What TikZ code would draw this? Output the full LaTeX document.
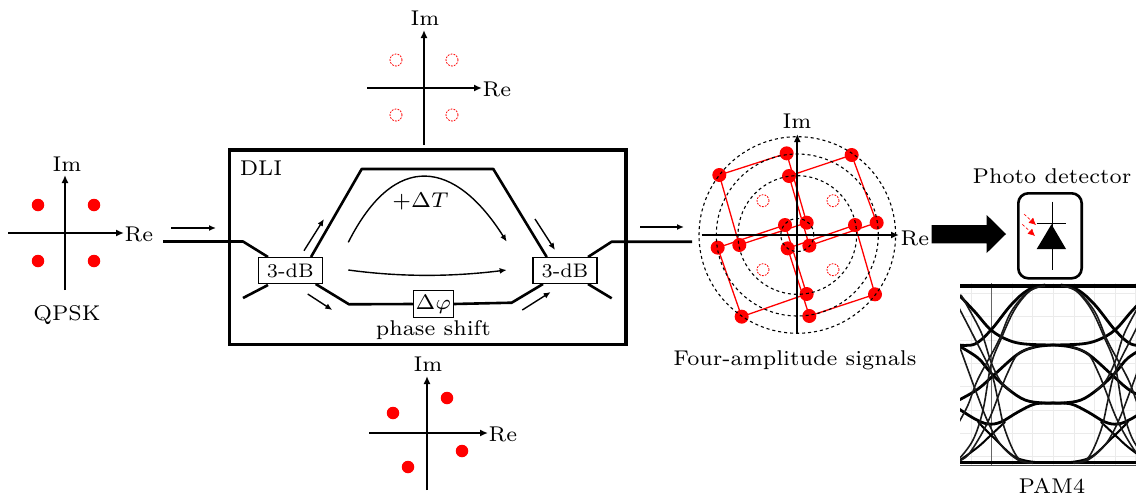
\documentclass[tikz,border=0pt]{standalone}
\usepackage{amsmath}
\usetikzlibrary{arrows.meta,calc}
\tikzset{
  lab/.style={inner sep=0pt,scale=3.05,font=\fontsize{7}{8}\selectfont},
  axis/.style={line width=1.7pt,-{Latex[length=8pt,width=7pt]}},
  flow/.style={line width=1.4pt,-{Latex[length=7pt,width=6pt]}},
  guide/.style={line width=2.6pt},
  fullpt/.style={circle,fill=red,draw=none,minimum size=12.5pt,inner sep=0pt},
  emptypt/.style={circle,draw=red,dash pattern=on 1.8pt off 1.2pt,line width=0.8pt,minimum size=12pt,inner sep=0pt},
  coupler/.style={draw=black,fill=white,line width=1.1pt,minimum width=64pt,minimum height=25.6pt,inner sep=0pt},
  ring/.style={draw=black,dashed,line width=1.1pt},
  sq/.style={draw=red,line width=1.3pt},
  eyethick/.style={line width=2.8pt,line cap=round,line join=round},
  eyemid/.style={line width=1.6pt,black!90},
}
\begin{document}
\begin{tikzpicture}[x=1pt,y=-1pt]
\useasboundingbox (0,0) rectangle (1136,496);
% --- QPSK
\coordinate (qw) at (8,233); \coordinate (qe) at (124,233);
\coordinate (qs) at (65,290); \coordinate (qn) at (65,175);
\draw[axis] (qw) -- (qe); \draw[axis] (qs) -- (qn);
\node[lab] (qim) at (67,164) {Im};
\node[lab] (qre) at (139,234) {Re};
\node[lab] (qlab) at (67,315) {QPSK};
\node[fullpt] (q1) at (38,205) {}; \node[fullpt] (q2) at (94,205) {};
\node[fullpt] (q3) at (38,261) {}; \node[fullpt] (q4) at (94,261) {};
% --- top
\coordinate (tw) at (367,88); \coordinate (te) at (482,88);
\coordinate (ts) at (424,145); \coordinate (tn) at (424,30);
\draw[axis] (tw) -- (te); \draw[axis] (ts) -- (tn);
\node[lab] (tim) at (425,18) {Im};
\node[lab] (tre) at (497,89) {Re};
\node[emptypt] (t1) at (396,60) {}; \node[emptypt] (t2) at (452,60) {};
\node[emptypt] (t3) at (396,115) {}; \node[emptypt] (t4) at (452,115) {};
% --- bottom
\coordinate (bw) at (369,433); \coordinate (be) at (488,433);
\coordinate (bs) at (427,490); \coordinate (bn) at (427,376);
\draw[axis] (bw) -- (be); \draw[axis] (bs) -- (bn);
\node[lab] (bim) at (428,364) {Im};
\node[lab] (bre) at (503,434) {Re};
\node[fullpt] (b1) at (393,413) {}; \node[fullpt] (b2) at (447,398) {};
\node[fullpt] (b3) at (408,467) {}; \node[fullpt] (b4) at (462,451) {};
% --- DLI
\node[draw=black,line width=3.2pt,minimum width=396.7pt,minimum height=194.3pt,inner sep=0pt] (dli) at (427.7,247.2) {};
\node[lab] (dlilab) at (261,168) {DLI};
\coordinate (inA) at (163,241.5); \coordinate (inB) at (243,241.5);
\coordinate (inC) at (268,257); \coordinate (lowL) at (243,298); \coordinate (lowLb) at (268,285);
\coordinate (u1) at (311,257); \coordinate (u2) at (361.7,169); \coordinate (u3) at (493.3,169); \coordinate (u4) at (546.7,257);
\coordinate (l1) at (315.7,284); \coordinate (l2) at (349,304.3);
\coordinate (l4) at (511.7,302.7); \coordinate (l5) at (543,284);
\coordinate (o1) at (588,257); \coordinate (o2) at (611.7,241.7); \coordinate (o3) at (692,241.7);
\coordinate (o4) at (588,284); \coordinate (o5) at (611.7,298.3);
\draw[guide,line join=round] (inA) -- (inB) -- (inC);
\draw[guide] (lowL) -- (lowLb);
\draw[guide,line join=round] (u1) -- (u2) -- (u3) -- (u4);
\node[draw=black,fill=white,line width=1.1pt,minimum width=40pt,minimum height=26.6pt,inner sep=0pt] (ps) at (433.3,304) {\scalebox{3}{\fontsize{7}{8}\selectfont $\Delta\varphi$}};
\draw[guide,line join=round] (l1) -- (l2) -- (ps.west);
\draw[guide,line join=round] (ps.east) -- (l4) -- (l5);
\draw[guide,line join=round] (o1) -- (o2) -- (o3);
\draw[guide] (o4) -- (o5);
\node[coupler] (cl) at (290.3,270.5) {\scalebox{2.8}{\fontsize{7}{8}\selectfont 3-dB}};
\node[coupler] (cr) at (565,270.5) {\scalebox{2.8}{\fontsize{7}{8}\selectfont 3-dB}};
\node[lab] (pslab) at (433.3,330.5) {phase shift};
\node[lab] (dt) at (420.7,201.7) {$+\Delta T$};
\coordinate (c1) at (348.3,242.3); \coordinate (c2) at (506.7,241.7); \coordinate (c3) at (348.3,270); \coordinate (c4) at (506.7,270);
\draw[flow] (c1) .. controls (395,150) and (455,160) .. (c2);
\draw[flow] (c3) .. controls (400,277) and (450,277) .. (c4);
\coordinate (a1) at (304,250.7); \coordinate (a2) at (324,219);
\coordinate (a3) at (535,219); \coordinate (a4) at (555,250);
\coordinate (a5) at (307.7,294); \coordinate (a6) at (332.3,310);
\coordinate (a7) at (522.3,310); \coordinate (a8) at (550.7,292);
\coordinate (a9) at (171,228); \coordinate (a10) at (216,228);
\coordinate (a11) at (640,227); \coordinate (a12) at (684,227);
\foreach \p/\q in {a1/a2,a3/a4,a5/a6,a7/a8,a9/a10,a11/a12} \draw[flow] (\p) -- (\q);
% --- four-amplitude constellation
\coordinate (cc) at (797.3,235);
\node[emptypt] (e1) at (763,200.7) {}; \node[emptypt] (e2) at (833,200.7) {};
\node[emptypt] (e3) at (763,269.7) {}; \node[emptypt] (e4) at (833,269.7) {};
\foreach \n/\x/\y in {
 p1/118/135,p2/320/70,p3/380/278,p4/178/345,
 r1/327/138,r2/515/75,r3/590/278,r4/388/347,
 s1/113/353,s2/315/285,s3/380/492,s4/185/560,
 v1/323/355,v2/525/285,v3/585/493,v4/388/558}
  \node[fullpt,minimum size=14pt] (\n) at ({680+\x/3},{130+\y/3}) {};
\foreach \n in {p,r,s,v}{
  \draw[sq] (\n1.center) -- (\n2.center) -- (\n3.center) -- (\n4.center) -- (\n1.center);
}
\draw[ring] (cc) circle (98.3pt);
\draw[ring] (cc) circle (81pt);
\draw[ring] (cc) circle (59.3pt);
\draw[ring] (cc) circle (16.5pt);
\coordinate (cw) at (701.7,235); \coordinate (ce) at (899,235);
\coordinate (cs) at (797.3,333); \coordinate (cn) at (797.3,134);
\draw[axis] (cw) -- (ce); \draw[axis] (cs) -- (cn);
\node[lab] (cim) at (797,121) {Im};
\node[lab] (cre) at (915,238) {Re};
\node[lab] (clab) at (795,360) {Four-amplitude signals};
% --- big arrow
\fill[black] (931.7,225) -- (986.7,225) -- (986.7,215) -- (1006,234) -- (986.7,253) -- (986.7,243.3) -- (931.7,243.3) -- cycle;
% --- photo detector
\node[draw=black,line width=2.6pt,rounded corners=10pt,minimum width=63.4pt,minimum height=85pt,inner sep=0pt] (pd) at (1050,235.8) {};
\node[lab] (pdlab) at (1052,176) {Photo detector};
\coordinate (d1) at (1052.7,201.7); \coordinate (d2) at (1052.7,270);
\coordinate (d3) at (1036.7,223.3); \coordinate (d4) at (1066,223.3);
\draw[line width=1.5pt] (d1) -- (d2);
\draw[line width=1.5pt] (d3) -- (d4);
\fill[black] (1036.7,249) -- (1066,249) -- (1051.5,224.3) -- cycle;
\coordinate (ra) at (1024,214); \coordinate (rb) at (1036,225);
\coordinate (rc) at (1022.3,224.3); \coordinate (rd) at (1035,236);
\draw[red,line width=0.6pt,densely dashed,-{Latex[length=7pt,width=7pt]}] (ra) -- (rb);
\draw[red,line width=0.6pt,densely dashed,-{Latex[length=7pt,width=7pt]}] (rc) -- (rd);
% --- eye diagram
\begin{scope}
\clip (960,283) rectangle (1136,467);
\foreach \gx in {971,1012,1032,1053,1074,1094,1115,1135}
  \draw[black!8,line width=0.6pt] (\gx,283) -- (\gx,466);
\foreach \gy in {293,316,340,363,386,410,433,456}
  \draw[black!8,line width=0.6pt] (960,\gy) -- (1136,\gy);
\draw[black!60,line width=0.7pt] (991,283) -- (991,466);
\draw[black,line width=4pt] (960,286) -- (1136,286);
\draw[black,line width=2.4pt] (960,462.5) -- (1136,462.5);
\draw[black!70,line width=0.7pt] (960,465.5) -- (1136,465.5);
\foreach \m in {1,-1}{
\begin{scope}[shift={(1053,0)},xscale=\m]
 \draw[eyethick] plot[smooth,tension=0.6] coordinates {(-94,345) (-78,344) (-62,330) (-42,305) (-25,290) (-8,285)};
 \draw[eyethick] plot[smooth,tension=0.6] coordinates {(-94,295) (-78,312) (-62,330) (-45,340) (-28,344) (0,345)};
 \draw[eyethick] plot[smooth,tension=0.6] coordinates {(-94,400) (-75,389) (-58,374) (-35,354) (-18,347) (0,345)};
 \draw[eyethick] plot[smooth,tension=0.6] coordinates {(-94,346) (-75,358) (-62,373) (-45,389) (-28,400) (-10,403) (0,403)};
 \draw[eyethick] plot[smooth,tension=0.6] coordinates {(-94,409) (-78,419) (-65,424) (-52,422) (-35,412) (-18,404) (0,403)};
 \draw[eyethick,line width=2pt] plot[smooth,tension=0.6] coordinates {(-94,461) (-75,447) (-62,435) (-48,422)};
 \draw[eyethick,line width=2pt] plot[smooth,tension=0.6] coordinates {(-75,422) (-58,439) (-38,457) (-18,462)};
 \draw[eyemid] plot[smooth,tension=0.6] coordinates {(-94,422) (-85,405) (-75,379) (-55,342) (-42,312) (-25,292) (-10,286)};
 \draw[eyemid] plot[smooth,tension=0.6] coordinates {(-94,459) (-80,440) (-70,410) (-62,365) (-52,339) (-38,309) (-22,290) (-8,286)};
 \draw[eyemid] plot[smooth,tension=0.6] coordinates {(-94,461) (-85,455) (-72,435) (-62,415) (-52,389) (-45,372) (-35,354) (-18,347)};
 \draw[eyemid] plot[smooth,tension=0.6] coordinates {(-94,308) (-78,339) (-62,372) (-55,400) (-48,430) (-35,458) (-20,463)};
 \draw[eyemid] plot[smooth,tension=0.6] coordinates {(-92,295) (-72,332) (-62,362) (-52,382) (-42,391)};
 \draw[eyemid] plot[smooth,tension=0.6] coordinates {(-94,345) (-78,389) (-65,422) (-52,445) (-35,460) (-22,463)};
\end{scope}}
\end{scope}
\node[lab] (pam) at (1052,485.5) {PAM4};
\end{tikzpicture}
\end{document}
